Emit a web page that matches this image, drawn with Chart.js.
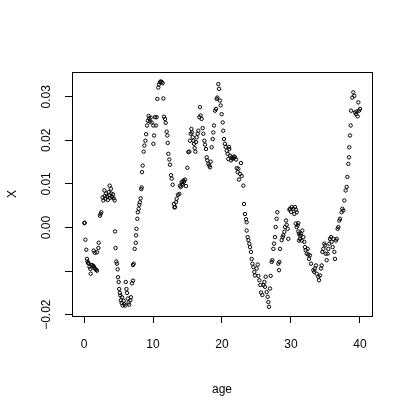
<!DOCTYPE html>
<html>
<head>
<meta charset="utf-8">
<script src="https://cdn.jsdelivr.net/npm/chart.js@4/dist/chart.umd.min.js"></script>
<style>
  html, body { margin: 0; padding: 0; background: #fff; }
  canvas { display: block; }
</style>
</head>
<body>
<canvas id="chart" width="409" height="406"></canvas>
<script>
// Data (age vs X)
const ages = [
  0.05, 0.1, 0.2, 0.33, 0.43, 0.5, 0.6, 0.68, 0.8, 0.92, 0.97, 1.16, 1.3, 1.4, 1.5, 1.64, 1.75, 1.88,
  1.4, 1.55, 1.88, 2.08, 2.13, 2.3, 2.4, 2.5,
  2.7, 2.8, 2.95, 3.0, 3.1, 3.2, 3.33, 3.45, 3.58, 3.65, 3.72, 3.8, 3.9, 3.95, 4.06, 4.2, 4.3, 4.45,
  4.5, 4.58, 4.68, 4.78, 4.88, 4.93,
  5.02, 5.1, 5.2, 5.27, 5.35, 5.45, 5.51, 5.6, 5.75, 5.85, 5.99, 6.05, 6.15, 6.23, 6.35, 6.47, 6.55,
  6.72, 6.8, 6.96, 7.1,
  7.1, 7.2, 7.34, 7.5, 7.54, 7.6, 7.73, 7.8, 7.93, 8.0, 8.1, 8.21, 8.3, 8.35, 8.41, 8.5, 8.65, 8.75,
  8.9, 9.0, 9.13, 9.25, 9.37, 9.45, 9.55, 9.66,
  9.81, 10.05, 10.05, 10.15, 10.29, 10.43, 10.53, 10.63, 10.77, 10.85, 11.01, 11.1, 11.26, 11.4, 11.5,
  11.59, 11.74, 11.84, 11.98, 12.08, 12.13, 12.22, 12.37, 12.46, 12.61, 12.71, 12.85,
  13.04, 13.1, 13.19, 13.33, 13.43, 13.62, 13.82, 13.91, 14.01, 14.15, 14.25, 14.3, 14.4, 14.5, 14.64, 14.78,
  14.98, 15.12, 15.27, 15.36, 15.46, 15.56, 15.65, 15.75, 15.85, 15.94, 16.04, 16.14, 16.23, 16.33,
  16.47, 16.57, 16.71, 16.81, 16.91, 17.05, 17.2, 17.29, 17.44, 17.54, 17.68, 17.78, 17.87, 18.02,
  18.16, 18.26, 18.36, 18.5, 18.65, 18.74, 18.84, 18.99, 19.13, 19.23, 19.32, 19.47, 19.57, 19.71,
  19.81, 19.95, 20.1, 20.19, 20.29, 20.43, 20.53, 20.68, 20.82, 20.92, 21.01, 21.06, 21.16, 21.3,
  21.4, 21.5, 21.64, 21.75, 21.88, 22.03, 22.13, 22.27, 22.37, 22.46, 22.61, 22.75, 22.85,
  23.09, 23.19, 23.33, 23.48, 23.57, 23.57, 23.72, 23.82, 23.96, 24.06, 24.2, 24.3, 24.4, 24.54,
  24.69, 24.78, 25.02, 25.17, 25.27, 25.41, 25.56, 25.65, 25.85, 25.99, 26.14, 26.23, 26.33, 26.47,
  26.62, 26.72, 26.81, 26.96, 27.05, 27.2, 27.3, 27.44, 27.54, 27.68, 27.78, 27.92, 28.02,
  28.16, 28.26, 28.31, 28.41, 28.65, 28.79, 28.89, 29.03, 29.13, 29.28, 29.37, 29.52, 29.61,
  29.76, 29.86, 30.0, 30.1, 30.34, 30.48, 30.58, 30.72, 30.82, 30.68, 30.82, 30.97, 31.06, 31.06,
  31.16, 31.16, 31.3, 31.3, 31.45, 31.55, 31.64, 31.79, 31.93, 32.03, 32.13, 32.27, 32.42, 32.51,
  32.61, 32.75, 32.9, 33.24, 33.38, 33.48, 33.62, 33.72, 33.96, 34.06, 34.2, 34.35, 34.44,
  34.54, 34.69, 34.83, 34.93, 35.02, 35.17, 35.31, 35.41, 35.56, 35.65, 35.8, 35.89, 36.04, 36.14,
  36.28, 36.38, 36.52, 36.62, 36.76, 36.86, 37.0, 37.1, 37.34, 37.44, 37.58, 37.73, 37.92, 38.07,
  38.17, 38.31, 38.41, 38.45, 38.55, 38.65, 38.7, 38.89, 39.03, 39.18, 39.28, 39.42, 39.52, 39.66,
  39.76, 39.86, 40.0
];
const values = [
  0.0010, 0.0011, -0.0028, -0.0051, -0.0072, -0.0078, -0.0081, -0.0083, -0.0090, -0.0095, -0.0106, -0.0086, -0.0088, -0.0089, -0.0093, -0.0095, -0.0097, -0.0099,
  -0.0053, -0.0058, -0.0057, -0.0047, -0.0035, 0.0027, 0.0031, 0.0035,
  0.0069, 0.0062, 0.0085, 0.0072, 0.0066, 0.0078, 0.0071, 0.0063, 0.0081, 0.0074, 0.0096, 0.0068, 0.0089, 0.0078, 0.0070, 0.0076, 0.0067, 0.0062,
  -0.0009, -0.0047, -0.0078, -0.0083, -0.0096, -0.0114,
  -0.0125, -0.0141, -0.0150, -0.0156, -0.0167, -0.0173, -0.0160, -0.0179, -0.0168, -0.0176, -0.0179, -0.0125, -0.0141, -0.0150, -0.0163, -0.0172, -0.0177,
  -0.0167, -0.0160, -0.0128, -0.0122,
  -0.0086, -0.0083, -0.0049, -0.0035, -0.0018, -0.0003, 0.0020, 0.0035, 0.0043, 0.0052, 0.0058, 0.0067, 0.0088, 0.0092, 0.0127, 0.0142, 0.0174, 0.0188,
  0.0199, 0.0214, 0.0234, 0.0245, 0.0256, 0.0250, 0.0243, 0.0252,
  0.0241, 0.0234, 0.0192, 0.0211, 0.0253, 0.0234, 0.0253, 0.0295, 0.0321, 0.0328, 0.0333, 0.0335, 0.0334, 0.0331, 0.0296,
  0.0254, 0.0249, 0.0240, 0.0220, 0.0211, 0.0194, 0.0169, 0.0156, 0.0144, 0.0120, 0.0112, 0.0098,
  0.0054, 0.0046, 0.0047, 0.0058, 0.0066, 0.0075, 0.0077, 0.0096, 0.0093, 0.0104, 0.0101, 0.0098, 0.0108, 0.0105, 0.0110, 0.0095,
  0.0137, 0.0173, 0.0174, 0.0199, 0.0215, 0.0226, 0.0218, 0.0207, 0.0199, 0.0192, 0.0182, 0.0174, 0.0196, 0.0207,
  0.0215, 0.0222, 0.0253, 0.0276, 0.0257, 0.0249, 0.0228, 0.0215, 0.0199, 0.0190, 0.0180, 0.0161, 0.0154, 0.0146,
  0.0142, 0.0138, 0.0151, 0.0184, 0.0203, 0.0218, 0.0234, 0.0268, 0.0272, 0.0295, 0.0298, 0.0329, 0.0318, 0.0291,
  0.0280, 0.0260, 0.0241, 0.0222, 0.0203, 0.0192, 0.0185, 0.0176, 0.0169, 0.0157, 0.0185, 0.0180, 0.0165, 0.0154,
  0.0161, 0.0158, 0.0159, 0.0163, 0.0161, 0.0156, 0.0136, 0.0127, 0.0135, 0.0110, 0.0123, 0.0148, 0.0118,
  0.0096, 0.0054, 0.0031, 0.0019, 0.0012, -0.0007, -0.0022, -0.0029, -0.0037, -0.0045, -0.0056, -0.0072, -0.0083, -0.0091,
  -0.0102, -0.0110, -0.0094, -0.0085, -0.0111, -0.0121, -0.0132, -0.0149, -0.0155, -0.0132, -0.0125, -0.0136, -0.0113, -0.0148,
  -0.0159, -0.0171, -0.0182, -0.0140, -0.0111, -0.0079, -0.0075, -0.0049, -0.0037, -0.0022, 0.0001, 0.0020, 0.0035,
  -0.0083, -0.0098, -0.0079, -0.0049, -0.0029, -0.0022, -0.0018, -0.0010, 0.0001, 0.0016, 0.0006, -0.0003, -0.0026,
  0.0041, 0.0043, 0.0036, 0.0047, 0.0043, 0.0031, 0.0047, 0.0041, 0.0035, 0.0009, 0.0001, 0.0005, 0.0010, -0.0009,
  -0.0030, -0.0014, -0.0018, -0.0026, -0.0014, -0.0030, -0.0007, -0.0022, -0.0033, -0.0045, -0.0052, -0.0060, -0.0049, -0.0062,
  -0.0072, -0.0064, -0.0083, -0.0098, -0.0102, -0.0094, -0.0087, -0.0106, -0.0113, -0.0121, -0.0110, -0.0094, -0.0087,
  -0.0056, -0.0049, -0.0037, -0.0041, -0.0060, -0.0075, -0.0060, -0.0049, -0.0037, -0.0026, -0.0022, -0.0033, -0.0045, -0.0026,
  -0.0056, -0.0072, -0.0030, -0.0026, -0.0003, 0.0001, 0.0016, 0.0020, 0.0035, 0.0043, 0.0039, 0.0062, 0.0085, 0.0093,
  0.0116, 0.0146, 0.0161, 0.0184, 0.0211, 0.0234, 0.0268, 0.0298, 0.0310, 0.0302, 0.0264, 0.0260, 0.0266, 0.0255,
  0.0287, 0.0268, 0.0272
];
const xTicks = [0, 10, 20, 30, 40];
const yTicks = [-0.02, -0.01, 0, 0.01, 0.02, 0.03];
const yTickLabels = ['\u22120.02', '', '0.00', '0.01', '0.02', '0.03'];

const FONT = 'Liberation Sans, Arial, Helvetica, sans-serif';

// R-style box around the plotting region + rotated y tick labels
const boxPlugin = {
  id: 'rbox',
  afterDraw(chart) {
    const { ctx, chartArea: a } = chart;
    ctx.save();
    ctx.strokeStyle = '#000';
    ctx.lineWidth = 1;
    ctx.strokeRect(Math.round(a.left) + 0.5, Math.round(a.top) + 0.5,
      Math.round(a.right - a.left), Math.round(a.bottom - a.top));

    const y = chart.scales.y;
    ctx.fillStyle = '#000';
    ctx.font = '12px ' + FONT;
    ctx.textAlign = 'center';
    ctx.textBaseline = 'middle';
    yTicks.forEach((v, i) => {
      if (!yTickLabels[i]) return;
      ctx.save();
      ctx.translate(47, y.getPixelForValue(v));
      ctx.rotate(-Math.PI / 2);
      ctx.fillText(yTickLabels[i], 0, 0);
      ctx.restore();
    });
    ctx.restore();
  }
};

new Chart(document.getElementById('chart'), {
  type: 'scatter',
  data: {
    datasets: [{
      data: ages.map((a, i) => ({ x: a, y: values[i] })),
      pointStyle: 'circle',
      pointRadius: 1.7,
      pointBorderWidth: 1,
      pointBackgroundColor: 'rgba(0,0,0,0)',
      pointBorderColor: '#000'
    }]
  },
  options: {
    responsive: false,
    animation: false,
    layout: { padding: { left: 0, top: 72, right: 37, bottom: 0 } },
    plugins: {
      legend: { display: false },
      tooltip: { enabled: false }
    },
    scales: {
      x: {
        type: 'linear',
        min: -1.74,
        max: 41.74,
        afterBuildTicks: (s) => { s.ticks = xTicks.map(v => ({ value: v })); },
        afterFit: (s) => { s.height = 90; },
        border: { display: false },
        grid: { drawOnChartArea: false, drawTicks: true, tickLength: 7, color: '#000', lineWidth: 1 },
        ticks: {
          color: '#000',
          font: { family: FONT, size: 12 },
          padding: 14,
          maxRotation: 0,
          callback: (v) => String(v)
        },
        title: {
          display: true,
          text: 'age',
          color: '#000',
          font: { family: FONT, size: 12 },
          padding: { top: 0, bottom: 9 }
        }
      },
      y: {
        type: 'linear',
        min: -0.0203,
        max: 0.03567,
        afterBuildTicks: (s) => { s.ticks = yTicks.map(v => ({ value: v })); },
        afterFit: (s) => { s.width = 72; },
        border: { display: false },
        grid: { drawOnChartArea: false, drawTicks: true, tickLength: 7, color: '#000', lineWidth: 1 },
        ticks: { display: false },
        title: {
          display: true,
          text: 'X',
          color: '#000',
          font: { family: FONT, size: 12 },
          padding: { top: 5, bottom: 0 }
        }
      }
    }
  },
  plugins: [boxPlugin]
});
</script>
</body>
</html>
